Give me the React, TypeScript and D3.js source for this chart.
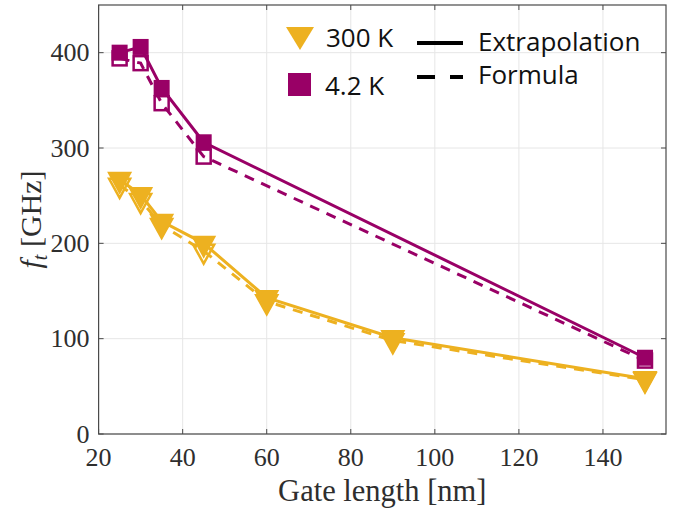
import React from "react";
import * as d3 from "d3";

// gate length [nm] and f_t [GHz]
const gateLength300 = [25, 30, 35, 45, 60, 90, 150];
const extrap300 = [267, 251, 223, 200, 143, 101, 58];
const formula300 = [261, 245, 219, 192, 139, 98, 57];

const gateLength4K = [25, 30, 35, 45, 150];
const extrap4K = [400, 406, 363, 306, 80];
const formula4K = [394, 389, 347, 291, 77];

const xTicks = [20, 40, 60, 80, 100, 120, 140];
const yTicks = [0, 100, 200, 300, 400];

const W = 698, H = 511;
const margin = { top: 5, right: 32, bottom: 77, left: 98.6 };
const innerW = W - margin.left - margin.right;
const innerH = H - margin.top - margin.bottom;

const gold = "#EDB120";
const purple = "#990066";
const axisColor = "#4a4a4a";
const serif = "'Liberation Serif', 'DejaVu Serif', serif";
const sans = "'Open Sans', 'Noto Sans', sans-serif";

const triPath = (w: number, h: number) =>
  `M${-w / 2},${-h / 3}L${w / 2},${-h / 3}L0,${(2 * h) / 3}Z`;

const App = () => {
  const x = d3.scaleLinear().domain([20, 155]).range([0, innerW]);
  const y = d3.scaleLinear().domain([0, 450]).range([innerH, 0]);

  const line = d3
    .line<[number, number]>()
    .x((d) => x(d[0]))
    .y((d) => y(d[1]));

  const zip = (xs: number[], ys: number[]) =>
    xs.map((v, i) => [v, ys[i]] as [number, number]);

  const ext300 = zip(gateLength300, extrap300);
  const for300 = zip(gateLength300, formula300);
  const ext4K = zip(gateLength4K, extrap4K);
  const for4K = zip(gateLength4K, formula4K);

  const sq = 16;
  const tick = 5;

  return (
    <svg width={W} height={H} style={{ position: "absolute", left: 0, top: 0 }}>
      <rect width={W} height={H} fill="#fff" />
      <g transform={`translate(${margin.left},${margin.top})`}>
        {/* grid */}
        {xTicks.map((t) => (
          <line key={"gx" + t} x1={x(t)} x2={x(t)} y1={0} y2={innerH} stroke="#e6e6e6" strokeWidth={1} />
        ))}
        {yTicks.map((t) => (
          <line key={"gy" + t} x1={0} x2={innerW} y1={y(t)} y2={y(t)} stroke="#e6e6e6" strokeWidth={1} />
        ))}

        {/* formula: dashed lines + open markers */}
        <path d={line(for300)!} fill="none" stroke={gold} strokeWidth={3} strokeDasharray="10 8" />
        <path d={line(for4K)!} fill="none" stroke={purple} strokeWidth={3} strokeDasharray="10 8" />
        {for300.map((d, i) => (
          <path key={"o3" + i} d={triPath(21, 19)} transform={`translate(${x(d[0])},${y(d[1])})`}
            fill="none" stroke={gold} strokeWidth={2.5} />
        ))}
        {for4K.map((d, i) => (
          <rect key={"o4" + i} x={x(d[0]) - 7} y={y(d[1]) - 7} width={14} height={14}
            fill="none" stroke={purple} strokeWidth={2.5} />
        ))}

        {/* extrapolation: solid lines + filled markers */}
        <path d={line(ext300)!} fill="none" stroke={gold} strokeWidth={3} />
        <path d={line(ext4K)!} fill="none" stroke={purple} strokeWidth={3} />
        {ext300.map((d, i) => (
          <path key={"f3" + i} d={triPath(25, 23)} transform={`translate(${x(d[0])},${y(d[1])})`} fill={gold} />
        ))}
        {ext4K.map((d, i) => (
          <rect key={"f4" + i} x={x(d[0]) - sq / 2} y={y(d[1]) - sq / 2} width={sq} height={sq} fill={purple} />
        ))}

        {/* box + ticks */}
        <rect x={0} y={0} width={innerW} height={innerH} fill="none" stroke={axisColor} strokeWidth={1.2} />
        {xTicks.map((t) => (
          <g key={"tx" + t}>
            <line x1={x(t)} x2={x(t)} y1={innerH} y2={innerH - tick} stroke={axisColor} />
            <line x1={x(t)} x2={x(t)} y1={0} y2={tick} stroke={axisColor} />
            <text x={x(t)} y={innerH + 32} textAnchor="middle" fontFamily={serif} fontSize={26} fill="#2e2e2e">
              {t}
            </text>
          </g>
        ))}
        {yTicks.map((t) => (
          <g key={"ty" + t}>
            <line x1={0} x2={tick} y1={y(t)} y2={y(t)} stroke={axisColor} />
            <line x1={innerW} x2={innerW - tick} y1={y(t)} y2={y(t)} stroke={axisColor} />
            <text x={-9} y={y(t) + 8.5} textAnchor="end" fontFamily={serif} fontSize={26} fill="#2e2e2e">
              {t}
            </text>
          </g>
        ))}

        {/* axis labels */}
        <text x={innerW / 2} y={innerH + 67} textAnchor="middle" fontFamily={serif} fontSize={30.5} fill="#2e2e2e">
          Gate length [nm]
        </text>
        <text transform={`translate(${-58},${innerH / 2}) rotate(-90)`} textAnchor="middle"
          fontFamily={serif} fontSize={30} fill="#2e2e2e">
          <tspan fontStyle="italic">f</tspan>
          <tspan fontStyle="italic" fontSize={20} dy={6}>t</tspan>
          <tspan dy={-6}> [GHz]</tspan>
        </text>
      </g>

      {/* legend */}
      <g fontFamily={sans} fontSize={26} fill="#111">
        <path d="M286,27L314,27L300,50Z" fill={gold} />
        <text x={326} y={47}>300 K</text>
        <rect x={288} y={73} width={23} height={23} fill={purple} />
        <text x={325} y={95}>4.2 K</text>
        <line x1={417} x2={463} y1={43} y2={43} stroke="#000" strokeWidth={4} />
        <text x={478} y={51}>Extrapolation</text>
        <line x1={417} x2={463} y1={77} y2={77} stroke="#000" strokeWidth={4} strokeDasharray="18 15" />
        <text x={478} y={84}>Formula</text>
      </g>
    </svg>
  );
};

export default App;
